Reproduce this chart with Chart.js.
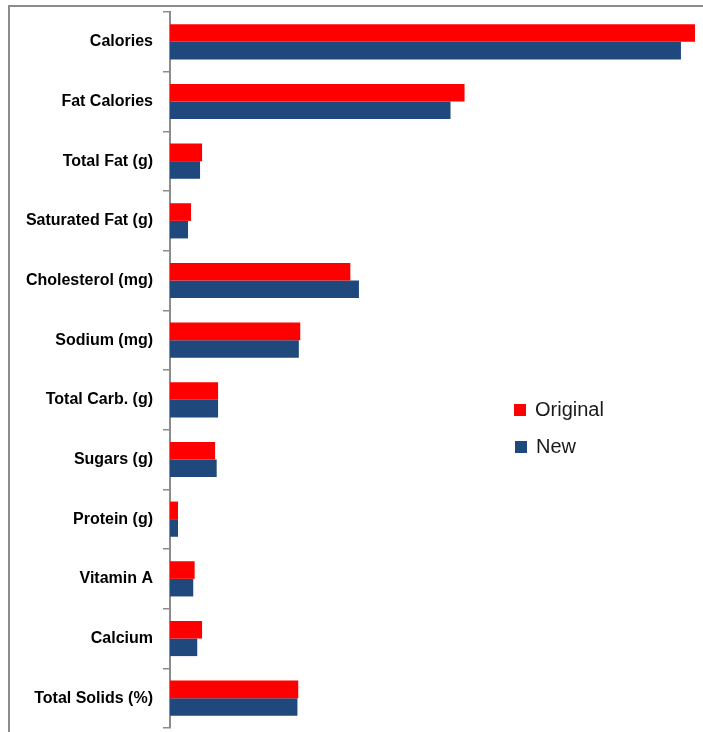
<!DOCTYPE html>
<html>
<head>
<meta charset="utf-8">
<script src="https://cdn.jsdelivr.net/npm/chart.js@4"></script>
<style>
  html, body { margin: 0; padding: 0; background: #fff; overflow: hidden; }
  #frame { position: absolute; left: 8px; top: 5px; width: 800px; height: 800px;
           border-left: 2px solid #8c8c8c; border-top: 2px solid #8c8c8c; }
  #wrap { position: absolute; left: 0; top: 0; width: 703px; height: 732px; }
</style>
</head>
<body>
<div id="frame"></div>
<div id="wrap"><canvas id="c"></canvas></div>
<script>
const categories = ["Calories", "Fat Calories", "Total Fat (g)", "Saturated Fat (g)", "Cholesterol (mg)",
  "Sodium (mg)", "Total Carb. (g)", "Sugars (g)", "Protein (g)", "Vitamin A", "Calcium", "Total Solids (%)"];
const originalValues = [262, 147, 16, 10.5, 90, 65, 24, 22.5, 4, 12.3, 16, 64];
const newValues      = [255, 140, 15, 9, 94.3, 64.3, 24, 23.3, 4, 11.6, 13.6, 63.6];
const seriesNames = ["Original", "New"];
const seriesColors = ["#ff0000", "#1f497d"];

const legendPlugin = {
  id: 'customLegend',
  afterDraw(chart) {
    const ctx = chart.ctx;
    const pos = [{x: 514, y: 404}, {x: 515, y: 441}];
    ctx.save();
    ctx.font = '20px "Liberation Sans", Arial, sans-serif';
    ctx.textBaseline = 'middle';
    chart.data.datasets.forEach((ds, i) => {
      ctx.fillStyle = ds.backgroundColor;
      ctx.fillRect(pos[i].x, pos[i].y, 12, 12);
      ctx.fillStyle = '#1a1a1a';
      ctx.fillText(ds.label, pos[i].x + 21, pos[i].y + 6);
    });
    ctx.restore();
  }
};

new Chart(document.getElementById('c'), {
  type: 'bar',
  data: {
    labels: categories,
    datasets: [
      { label: seriesNames[0], data: originalValues, backgroundColor: seriesColors[0] },
      { label: seriesNames[1], data: newValues, backgroundColor: seriesColors[1] }
    ]
  },
  options: {
    indexAxis: 'y',
    responsive: true,
    maintainAspectRatio: false,
    animation: false,
    layout: { padding: { top: 12, bottom: 4, left: 0, right: 0 } },
    datasets: { bar: { categoryPercentage: 0.59, barPercentage: 1.0, borderWidth: 0 } },
    plugins: { legend: { display: false }, tooltip: { enabled: false } },
    scales: {
      x: { display: false, min: 0, max: 266 },
      y: {
        afterFit(scale) { scale.width = 170; scale.paddingTop = 0; scale.paddingBottom = 0; },
        grid: { display: true, drawOnChartArea: false, offset: true, tickLength: 7, color: '#8c8c8c', lineWidth: 1.5 },
        border: { display: true, color: '#8c8c8c', width: 2 },
        ticks: { color: '#000', padding: 10, font: { family: '"Liberation Sans", Arial, sans-serif', size: 16, weight: 'bold' } }
      }
    }
  },
  plugins: [legendPlugin]
});
</script>
</body>
</html>
